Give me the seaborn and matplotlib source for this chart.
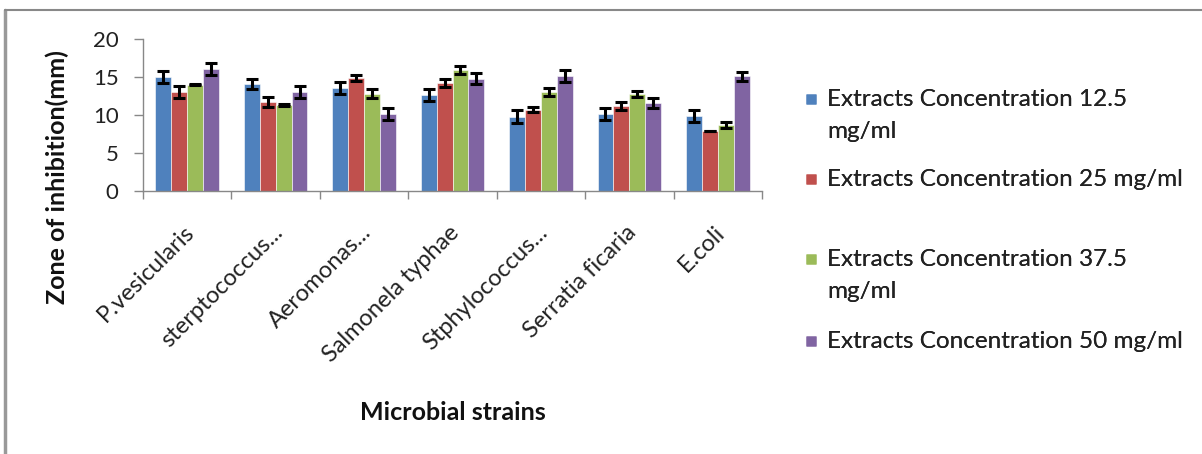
import matplotlib
matplotlib.use("Agg")
import matplotlib.pyplot as plt
import matplotlib.transforms as mtransforms
import seaborn as sns
import pandas as pd
import numpy as np
from matplotlib.lines import Line2D

strains = ["P.vesicularis", "sterptococcus...", "Aeromonas...", "Salmonela typhae",
           "Stphylococcus...", "Serratia ficaria", "E.coli"]
series_names = ["Extracts Concentration 12.5\nmg/ml",
                "Extracts Concentration 25 mg/ml",
                "Extracts Concentration 37.5\nmg/ml",
                "Extracts Concentration 50 mg/ml"]
conc_12_5 = [15.0, 14.1, 13.5, 12.6, 9.8, 10.1, 9.9]
conc_25 = [13.0, 11.7, 14.9, 14.2, 10.7, 11.2, 7.9]
conc_37_5 = [14.0, 11.3, 12.8, 15.9, 13.0, 12.8, 8.7]
conc_50 = [16.0, 13.0, 10.1, 14.8, 15.1, 11.6, 15.1]
err_12_5 = [0.8, 0.7, 0.8, 0.8, 0.8, 0.8, 0.8]
err_25 = [0.8, 0.7, 0.4, 0.5, 0.3, 0.5, 0.0]
err_37_5 = [0.1, 0.1, 0.6, 0.5, 0.5, 0.4, 0.4]
err_50 = [0.8, 0.8, 0.8, 0.7, 0.8, 0.7, 0.6]
yticks = [0, 5, 10, 15, 20]

colors = ["#4F81BD", "#C0504D", "#9BBB59", "#8064A2"]
values = [conc_12_5, conc_25, conc_37_5, conc_50]
errors = [err_12_5, err_25, err_37_5, err_50]

rows = []
for name, vals in zip(series_names, values):
    for s, v in zip(strains, vals):
        rows.append({"strain": s, "series": name, "value": v})
df = pd.DataFrame(rows)

sns.set_style("white")
plt.rcParams["font.family"] = ["Lato", "DejaVu Sans"]

W, H = 1202, 454
fig = plt.figure(figsize=(W/100, H/100), dpi=100)
ax = fig.add_axes([143/W, 1-191/H, (762-143)/W, (191-39)/H])

sns.barplot(data=df, x="strain", y="value", hue="series", order=strains,
            hue_order=series_names, palette=colors, width=0.72, gap=0,
            errorbar=None, legend=False, ax=ax, saturation=1,
            edgecolor="white", linewidth=0.4)

for cont, errs in zip(ax.containers, errors):
    xs = [b.get_x() + b.get_width()/2 for b in cont]
    hs = [b.get_height() for b in cont]
    ax.errorbar(xs, hs, yerr=errs, fmt="none", ecolor="black",
                elinewidth=2.2, capsize=4.5, capthick=2.2, zorder=5)

ax.set_ylim(0, 20)
ax.set_yticks(yticks)
ax.set_xlim(-0.5, len(strains)-0.5)
ax.set_xticks(np.arange(len(strains)))
ax.set_xticklabels(strains, rotation=45, ha="right", rotation_mode="anchor",
                   fontsize=17, color="#222222")
ax.tick_params(axis="x", length=0, pad=22)
shift = mtransforms.ScaledTranslation(-4/100, 0, fig.dpi_scale_trans)
for lbl in ax.get_xticklabels():
    lbl.set_transform(lbl.get_transform() + shift)
ax.tick_params(axis="y", labelsize=16, colors="#888888", labelcolor="#222222",
               length=6.5, width=1, direction="out", left=True, pad=11)
ax.set_xticks(np.arange(-0.5, len(strains)), minor=True)
ax.tick_params(axis="x", which="minor", length=6, width=1, color="#888888",
               direction="out", bottom=True)

for side in ["top", "right"]:
    ax.spines[side].set_visible(False)
for side in ["left", "bottom"]:
    ax.spines[side].set_color("#888888")
    ax.spines[side].set_linewidth(1)

ax.set_ylabel("Zone of inhibition(mm)", fontsize=18, fontweight="bold",
              color="#111111")
ax.yaxis.set_label_coords((69-143)/619, (191-177)/152)
ax.set_xlabel("")
fig.text(453/W, 1-413/H, "Microbial strains", fontsize=18, fontweight="bold",
         ha="center", va="center", color="#111111")

legend_tops = [89, 169, 249, 331]
for c, name, ytop in zip(colors, series_names, legend_tops):
    h = Line2D([], [], marker="s", linestyle="none", markersize=7.5,
               markerfacecolor=c, markeredgecolor="none")
    leg = fig.legend([h], [name], loc="upper left",
                     bbox_to_anchor=(804/W, 1-ytop/H), frameon=False,
                     fontsize=17.5, handlelength=0.6, handleheight=1.0,
                     handletextpad=0.35, borderaxespad=0, borderpad=0)
    for t in leg.get_texts():
        t.set_color("#222222")
        t.set_linespacing(1.65)
    for col in leg._legend_handle_box.get_children():
        for item in col.get_children():
            item.align = "top"
    fig.add_artist(leg)

# outer frame lines (left and top)
fig.add_artist(Line2D([5/W, 5/W], [0, 1-10/H], transform=fig.transFigure,
                      color="#999999", linewidth=2.5))
fig.add_artist(Line2D([5/W, 1], [1-10/H, 1-10/H], transform=fig.transFigure,
                      color="#888888", linewidth=1.5))

fig.savefig("out.png", dpi=100)
